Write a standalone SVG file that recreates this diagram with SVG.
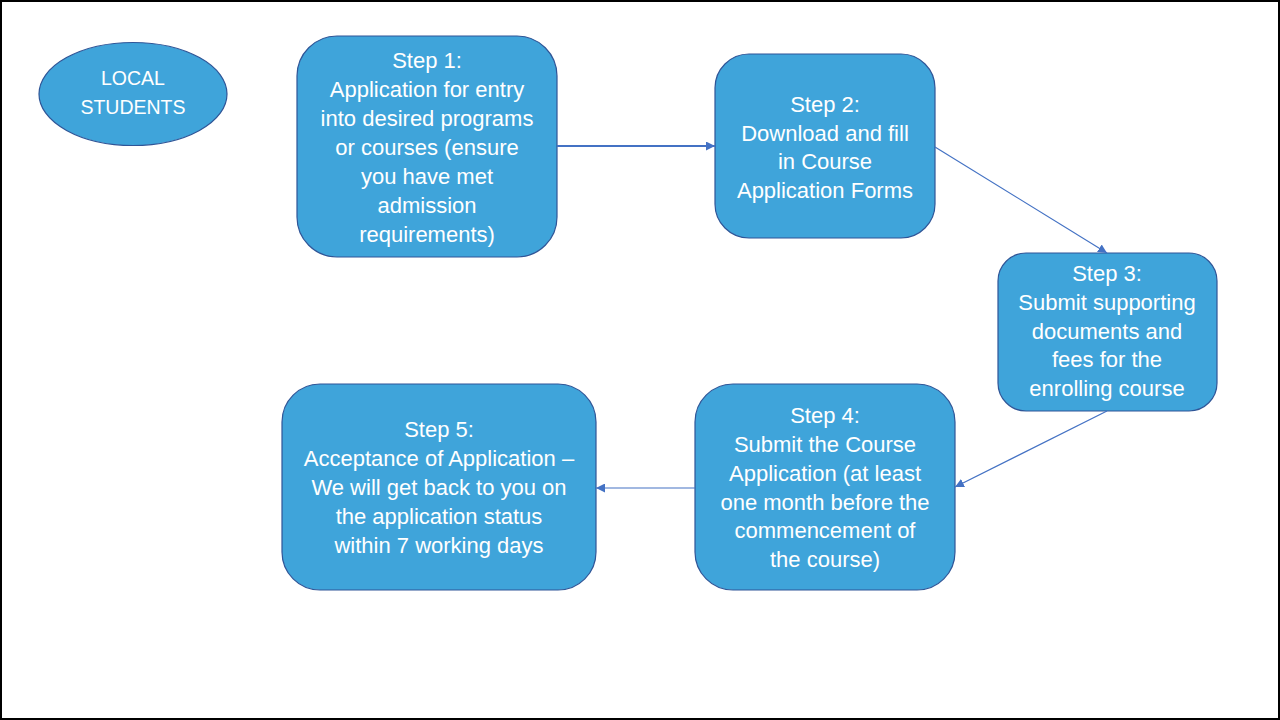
<svg xmlns="http://www.w3.org/2000/svg" width="1280" height="720" viewBox="0 0 1280 720">
<defs>
<marker id="arr" viewBox="0 0 10 10" refX="10" refY="5" markerWidth="9" markerHeight="9" markerUnits="userSpaceOnUse" orient="auto">
<path d="M0,0 L10,5 L0,10 z" fill="#4472C4"/>
</marker>
</defs>
<style>
.box{fill:#3FA4DA;stroke:#2F5597;stroke-width:1.2}
.t{font-family:"Liberation Sans",Arial,sans-serif;font-size:22px;fill:#ffffff;text-anchor:middle}
.e{font-size:19.5px}
.c{stroke:#4472C4;fill:none}
</style>
<rect x="1" y="1" width="1278" height="718" fill="#ffffff" stroke="#000000" stroke-width="2"/>
<g id="local">
<ellipse class="box" cx="133" cy="94" rx="94" ry="51.5"/>
<text class="t e"><tspan x="133" y="85">LOCAL</tspan><tspan x="133" y="114">STUDENTS</tspan></text>
</g>
<g id="step1">
<rect class="box" x="297" y="36" width="260" height="221" rx="40"/>
<text class="t"><tspan x="427" y="68">Step 1:</tspan><tspan x="427" y="97">Application for entry</tspan><tspan x="427" y="126">into desired programs</tspan><tspan x="427" y="155">or courses (ensure</tspan><tspan x="427" y="184">you have met</tspan><tspan x="427" y="213">admission</tspan><tspan x="427" y="242">requirements)</tspan></text>
</g>
<g id="step2">
<rect class="box" x="715" y="54" width="220" height="184" rx="34"/>
<text class="t"><tspan x="825" y="112">Step 2:</tspan><tspan x="825" y="141">Download and fill</tspan><tspan x="825" y="169">in Course</tspan><tspan x="825" y="198">Application Forms</tspan></text>
</g>
<g id="step3">
<rect class="box" x="998" y="253" width="219" height="158" rx="28"/>
<text class="t"><tspan x="1107" y="281">Step 3:</tspan><tspan x="1107" y="310">Submit supporting</tspan><tspan x="1107" y="339">documents and</tspan><tspan x="1107" y="367">fees for the</tspan><tspan x="1107" y="396">enrolling course</tspan></text>
</g>
<g id="step4">
<rect class="box" x="695" y="384" width="260" height="206" rx="38"/>
<text class="t"><tspan x="825" y="423">Step 4:</tspan><tspan x="825" y="452">Submit the Course</tspan><tspan x="825" y="481">Application (at least</tspan><tspan x="825" y="510">one month before the</tspan><tspan x="825" y="538">commencement of</tspan><tspan x="825" y="567">the course)</tspan></text>
</g>
<g id="step5">
<rect class="box" x="282" y="384" width="314" height="206" rx="38"/>
<text class="t"><tspan x="439" y="437">Step 5:</tspan><tspan x="439" y="466">Acceptance of Application –</tspan><tspan x="439" y="495">We will get back to you on</tspan><tspan x="439" y="524">the application status</tspan><tspan x="439" y="553">within 7 working days</tspan></text>
</g>
<g id="connectors">
<line class="c" x1="557" y1="146" x2="715" y2="146" stroke-width="2" marker-end="url(#arr)"/>
<line class="c" x1="935" y1="147" x2="1107" y2="253" stroke-width="1.2" marker-end="url(#arr)"/>
<line class="c" x1="1107" y1="411" x2="955" y2="487" stroke-width="1.2" marker-end="url(#arr)"/>
<line class="c" x1="695" y1="488" x2="596" y2="488" stroke-width="1.2" marker-end="url(#arr)"/>
</g>
</svg>
